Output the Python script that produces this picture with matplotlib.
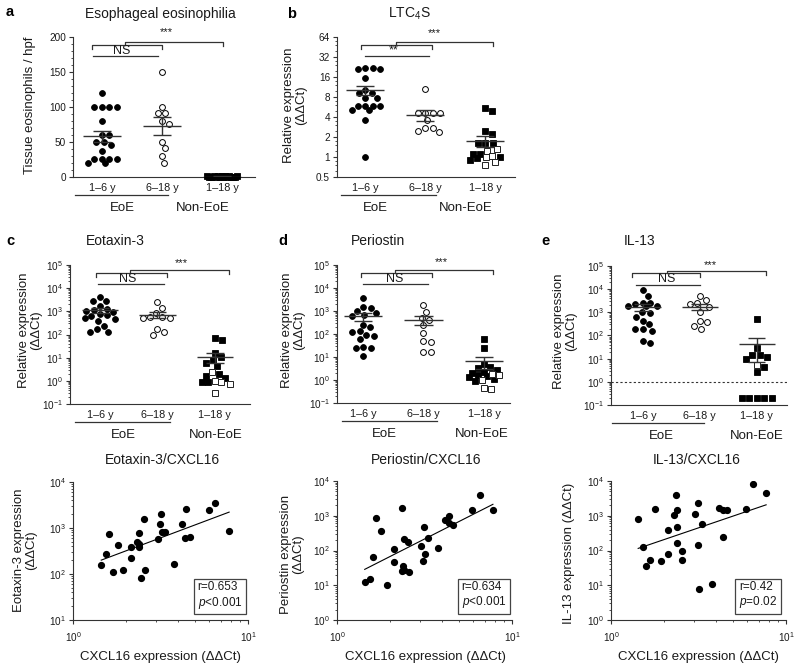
import numpy as np
import matplotlib
matplotlib.use("Agg")
import matplotlib.pyplot as plt
from matplotlib.ticker import (MultipleLocator, FixedLocator, LogLocator,
                               NullFormatter, LogFormatterSciNotation)

# ---------------- data ----------------
categories = ["1\u20136 y", "6\u201318 y", "1\u201318 y"]
group_names = ["EoE", "Non-EoE"]

# (a) Esophageal eosinophilia
a_1_6 = [120, 100, 100, 100, 100, 80, 60, 60, 50, 50, 46, 37, 25, 25, 25, 25, 20, 20]
a_6_18 = [150, 100, 91, 91, 80, 76, 50, 41, 30, 20]
a_non_filled = [0, 0, 0, 1, 0, 1, 2, 0, 0, 1, 0, 0, 2, 1, 0, 1]
a_non_open = []
a_ticks = [0, 50, 100, 150, 200]

# (b) LTC4S
b_1_6 = [21, 22, 22, 21, 15.6, 10.2, 9.1, 9.1, 7.6, 7.6, 5.9, 5.9, 5.9, 5.9, 5.1, 5.1, 3.6, 1.0]
b_6_18 = [10.7, 4.6, 4.6, 4.6, 4.6, 3.6, 2.7, 2.4, 2.5, 2.7]
b_non_filled = [5.0, 5.5, 2.5, 2.2, 1.6, 1.6, 1.6, 1.1, 1.0, 1.1, 0.9, 0.95]
b_non_open = [1.3, 1.25, 1.0, 0.85, 0.75, 1.05]
b_ticks = [0.5, 1, 2, 4, 8, 16, 32, 64]
b_tick_labels = ["0.5", "1", "2", "4", "8", "16", "32", "64"]

# (c) Eotaxin-3
c_1_6 = [4000, 2800, 2800, 1700, 1300, 1100, 1000, 900, 800, 700, 600, 500, 450, 400, 240, 180, 130, 130]
c_6_18 = [2450, 1400, 860, 560, 500, 500, 560, 180, 98, 125]
c_non_filled = [70, 60, 16, 11, 8, 6, 4.3, 2.0, 1.65, 0.9, 0.9, 1.3]
c_non_open = [2.4, 0.9, 0.72, 0.3, 1.0]

# (d) Periostin
d_1_6 = [3500, 1500, 1400, 1000, 800, 700, 600, 250, 200, 130, 120, 90, 80, 60, 25, 25, 28, 11]
d_6_18 = [1850, 950, 520, 400, 250, 110, 52, 45, 16, 17]
d_non_filled = [60, 25, 5, 3.5, 3.3, 2.8, 2.2, 2.0, 1.6, 1.3, 1.1, 0.9, 1.5]
d_non_open = [1.9, 1.0, 0.4, 0.45, 1.6]

# (e) IL-13
e_1_6 = [8900, 5200, 2500, 2500, 2300, 1800, 1800, 1800, 950, 1000, 600, 440, 310, 200, 160, 190, 48, 60]
e_6_18 = [4900, 3300, 2500, 2300, 1700, 1000, 430, 400, 265, 200]
e_non_filled = [520, 29, 14, 15, 10, 12, 4.5, 2.6, 0.2, 0.2, 0.2, 0.2, 0.2]
e_non_open = [5.5]

# correlations with CXCL16
eot_x = [1.45, 1.54, 1.61, 1.69, 1.80, 1.94, 2.14, 2.14, 2.31, 2.37, 2.39, 2.39, 2.44, 2.56,
         2.58, 3.05, 3.17, 3.14, 3.22, 3.35, 3.79, 4.17, 4.36, 4.42, 4.65, 5.97, 6.52, 7.8]
eot_y = [155, 275, 740, 110, 425, 124, 225, 380, 490, 780, 440, 380, 83, 1560,
         124, 575, 2000, 1230, 800, 800, 162, 1230, 600, 2650, 630, 2450, 3500, 850]
per_x = [1.44, 1.54, 1.60, 1.68, 1.79, 1.92, 2.13, 2.13, 2.35, 2.38, 2.40, 2.40, 2.35, 2.55,
         2.57, 3.03, 3.15, 3.12, 3.19, 3.31, 3.78, 4.16, 4.37, 4.35, 4.6, 5.93, 6.53, 7.78]
per_y = [12.8, 15.6, 64, 860, 370, 10.2, 111, 46, 1700, 36, 210, 28, 25, 180,
         24, 135, 490, 50, 80, 230, 117, 760, 1000, 630, 550, 1490, 3900, 1490]
il13_x = [1.43, 1.53, 1.59, 1.67, 1.78, 1.92, 2.11, 2.11, 2.29, 2.34, 2.37, 2.39, 2.37, 2.53,
          2.55, 3.02, 3.13, 3.13, 3.29, 3.2, 3.77, 4.14, 4.38, 4.35, 4.63, 5.9, 6.5, 7.7]
il13_y = [820, 130, 35, 52, 1550, 50, 80, 380, 1070, 3900, 1500, 490, 162, 100,
          54, 1100, 2300, 140, 570, 8, 10.7, 1650, 1500, 240, 1500, 1550, 8400, 4500]
stats_text = ["r=0.653\n$p$<0.001", "r=0.634\n$p$<0.001", "r=0.42\n$p$=0.02"]

# ---------------- style ----------------
plt.rcParams.update({
    "font.family": ["Liberation Sans", "DejaVu Sans"],
    "mathtext.fontset": "custom",
    "mathtext.rm": "Liberation Sans",
    "mathtext.it": "Liberation Sans:italic",
    "mathtext.bf": "Liberation Sans:bold",
    "axes.linewidth": 0.8,
})
TXT = "#1a1a1a"
LN = "#333333"
W, H = 800, 671
fig = plt.figure(figsize=(W / 100, H / 100), dpi=100)


def rect(l, r, t, b):
    return [l / W, 1 - b / H, (r - l) / W, (b - t) / H]


def P(x, y):
    return (x / W, 1 - y / H)


def base_style(ax):
    for s in ["top", "right"]:
        ax.spines[s].set_visible(False)
    for s in ["left", "bottom"]:
        ax.spines[s].set_color(LN)
    ax.tick_params(which="major", colors=LN, labelcolor=TXT, labelsize=7.2,
                   direction="out", length=3, width=0.8, pad=2)
    ax.tick_params(which="minor", colors=LN, direction="out", length=1.6, width=0.6)


def swarm_x(ax, vals, center, D=7.2, max_px=15.0):
    """Greedy beeswarm layout computed in display pixels."""
    vals = np.asarray(vals, float)
    disp = ax.transData.transform(np.column_stack([np.full(len(vals), center), vals]))
    ys = disp[:, 1]
    p0 = ax.transData.transform((center, vals[0]))[0]
    p1 = ax.transData.transform((center + 1, vals[0]))[0]
    ppu = p1 - p0
    steps = np.arange(0, max_px + 0.01, 0.5)
    cands = [0.0]
    for s in steps[1:]:
        cands += [s, -s]
    cands = np.array(cands)
    order = np.argsort(-ys, kind="stable")
    px_x = np.zeros(len(vals))
    placed = []
    for i in order:
        y = ys[i]
        if not placed:
            px_x[i] = 0.0
            placed.append((0.0, y))
            continue
        P_ = np.array(placed)
        d2 = (cands[:, None] - P_[None, :, 0]) ** 2 + (y - P_[None, :, 1]) ** 2
        mind = d2.min(axis=1)
        ok = np.where(mind >= D * D)[0]
        if len(ok):
            c = cands[ok[0]]
        else:
            c = cands[np.argmax(mind)]
        px_x[i] = c
        placed.append((c, y))
    return center + px_x / ppu


def mean_sem(ax, vals, c, log):
    v = np.asarray(vals, float)
    m = v.mean()
    se = v.std(ddof=1) / np.sqrt(len(v))
    lo = m - se
    if log and lo <= 0:
        lo = m * 0.5
    kw = dict(color=LN, lw=1.0, zorder=4, solid_capstyle="butt")
    ax.plot([c - 0.32, c + 0.32], [m, m], **kw)
    ax.plot([c, c], [lo, m + se], **kw)
    ax.plot([c - 0.15, c + 0.15], [m + se, m + se], **kw)
    ax.plot([c - 0.15, c + 0.15], [lo, lo], **kw)


def cat_panel(ax, g1, g2, gf, go, log, ylim, xlim, br, deco, star_dy=3):
    ax.set_xlim(*xlim)
    if log == "log10":
        ax.set_yscale("log")
    elif log == "log2":
        ax.set_yscale("log", base=2)
    ax.set_ylim(*ylim)
    base_style(ax)
    msz = 4.2
    x1 = swarm_x(ax, g1, 0)
    ax.plot(x1, g1, "o", ms=msz, mfc="black", mec="black", mew=0.6, ls="none", zorder=3, clip_on=False)
    x2 = swarm_x(ax, g2, 1)
    ax.plot(x2, g2, "o", ms=msz, mfc="white", mec="black", mew=0.7, ls="none", zorder=3, clip_on=False)
    gall = list(gf) + list(go)
    x3 = swarm_x(ax, gall, 2)
    nf = len(gf)
    ax.plot(x3[:nf], gf, "s", ms=msz, mfc="black", mec="black", mew=0.6, ls="none", zorder=3, clip_on=False)
    if len(go):
        ax.plot(x3[nf:], go, "s", ms=msz, mfc="white", mec="#222222", mew=0.7, ls="none", zorder=3, clip_on=False)
    islog = log is not None
    mean_sem(ax, g1, 0, islog)
    mean_sem(ax, g2, 1, islog)
    mean_sem(ax, gall, 2, islog)

    ax.set_xticks([0, 1, 2])
    ax.set_xticklabels(categories, fontsize=7.8, color=TXT)
    ax.tick_params(axis="x", length=0, pad=4)

    hpx = ax.bbox.height
    tr = ax.get_xaxis_transform()
    lk = dict(color=LN, lw=0.9, transform=tr, clip_on=False)

    def yf(dy):
        return 1 - dy / hpx

    b0, b1, s0, s1, n0, n1, nt, st, lab = br
    ax.plot([b0, b0, b1, b1], [yf(11.5), yf(7.5), yf(7.5), yf(11.5)], **lk)
    ax.plot([s0, s0, s1, s1], [yf(7.5), yf(5), yf(5), yf(9)], **lk)
    ax.plot([n0, n1], [yf(19), yf(19)], **lk)
    ax.text(nt, yf(13.5), lab, transform=tr, ha="center", va="center", fontsize=9, color=TXT)
    ax.text(st, yf(-star_dy), "***", transform=tr, ha="center", va="center", fontsize=8, color=TXT)

    u0, u1, ex, nx = deco
    ax.plot([u0, u1], [-18 / hpx, -18 / hpx], **lk)
    ax.text(ex, -31 / hpx, group_names[0], transform=tr, ha="center", va="center", fontsize=9.5, color=TXT)
    ax.text(nx, -31 / hpx, group_names[1], transform=tr, ha="center", va="center", fontsize=9.5, color=TXT)


# ---- panel a
ax_a = fig.add_axes(rect(73, 255, 37, 177))
cat_panel(ax_a, a_1_6, a_6_18, a_non_filled, a_non_open, None, (0, 200), (-0.48, 2.55),
          (-0.17, 1.0, 0.38, 2.02, -0.15, 0.93, 0.33, 1.08, "NS"),
          (-0.45, 1.1, 0.35, 1.68), star_dy=5)
ax_a.set_yticks(a_ticks)
ax_a.yaxis.set_minor_locator(MultipleLocator(10))

# ---- panel b
ax_b = fig.add_axes(rect(337, 515, 37, 177))
cat_panel(ax_b, b_1_6, b_6_18, b_non_filled, b_non_open, "log2", (0.5, 64), (-0.47, 2.5),
          (-0.07, 1.11, 0.52, 2.14, -0.01, 1.07, 0.47, 1.15, "**"),
          (-0.4, 1.19, 0.17, 1.67), star_dy=4)
ax_b.yaxis.set_major_locator(FixedLocator(b_ticks))
ax_b.set_yticklabels(b_tick_labels)
ax_b.yaxis.set_minor_locator(FixedLocator([2.0 ** k * f for k in range(-1, 6) for f in (1.25, 1.5, 1.75)]))
ax_b.yaxis.set_minor_formatter(NullFormatter())


def log_y(ax):
    ax.yaxis.set_major_locator(LogLocator(base=10, numticks=20))
    ax.yaxis.set_major_formatter(LogFormatterSciNotation())
    ax.yaxis.set_minor_locator(LogLocator(base=10, subs=np.arange(2, 10), numticks=50))
    ax.yaxis.set_minor_formatter(NullFormatter())


# ---- panel c
ax_c = fig.add_axes(rect(70, 250, 265, 404))
cat_panel(ax_c, c_1_6, c_6_18, c_non_filled, c_non_open, "log10", (0.1, 1e5), (-0.52, 2.61),
          (-0.07, 1.17, 0.52, 2.24, -0.03, 1.11, 0.49, 1.42, "NS"),
          (-0.43, 1.22, 0.4, 2.02), star_dy=2)
log_y(ax_c)

# ---- panel d
ax_d = fig.add_axes(rect(337, 510, 265, 403))
cat_panel(ax_d, d_1_6, d_6_18, d_non_filled, d_non_open, "log10", (0.1, 1e5), (-0.43, 2.43),
          (-0.04, 1.14, 0.53, 2.15, 0.0, 1.07, 0.53, 1.3, "NS"),
          (-0.35, 1.22, 0.36, 1.96), star_dy=3)
log_y(ax_d)

# ---- panel e
ax_e = fig.add_axes(rect(611, 787, 266, 405))
cat_panel(ax_e, e_1_6, e_6_18, e_non_filled, e_non_open, "log10", (0.1, 1e5), (-0.56, 2.53),
          (-0.2, 1.01, 0.42, 2.16, -0.12, 1.0, 0.42, 1.18, "NS"),
          (-0.55, 1.08, 0.33, 2.0), star_dy=1)
log_y(ax_e)
ax_e.axhline(1, color=LN, lw=0.8, ls=(0, (2, 2)), zorder=1)


# ---- scatter panels
def scatter_panel(ax, xs, ys, ylim, stat):
    ax.set_xscale("log")
    ax.set_yscale("log")
    ax.set_xlim(1, 10)
    ax.set_ylim(*ylim)
    base_style(ax)
    ax.plot(xs, ys, "o", ms=4.2, mfc="black", mec="black", ls="none", zorder=3)
    lx, ly = np.log10(xs), np.log10(ys)
    k, b = np.polyfit(lx, ly, 1)
    xx = np.array([min(xs), max(xs)])
    ax.plot(xx, 10 ** (k * np.log10(xx) + b), color="black", lw=0.8, zorder=2)
    for axis in (ax.xaxis, ax.yaxis):
        axis.set_major_locator(LogLocator(base=10, numticks=20))
        axis.set_major_formatter(LogFormatterSciNotation())
        axis.set_minor_locator(LogLocator(base=10, subs=np.arange(2, 10), numticks=50))
        axis.set_minor_formatter(NullFormatter())
    ax.tick_params(axis="x", pad=4)
    ax.text(0.84, 0.175, stat, transform=ax.transAxes, ha="center", va="center",
            fontsize=8.5, color=TXT, multialignment="left", linespacing=1.15,
            bbox=dict(boxstyle="square,pad=0.3", fc="white", ec="#444444", lw=0.9))


ax_s1 = fig.add_axes(rect(73, 248, 482, 620))
scatter_panel(ax_s1, eot_x, eot_y, (10, 1e4), stats_text[0])
ax_s2 = fig.add_axes(rect(337, 512, 481, 620))
scatter_panel(ax_s2, per_x, per_y, (1, 1e4), stats_text[1])
ax_s3 = fig.add_axes(rect(611, 786, 481, 620))
scatter_panel(ax_s3, il13_x, il13_y, (1, 1e4), stats_text[2])

# ---- texts
tk = dict(ha="center", va="center", color=TXT)
fig.text(*P(160.5, 14), "Esophageal eosinophilia", fontsize=10, **tk)
fig.text(*P(409, 14), "LTC$_4$S", fontsize=10, **tk)
fig.text(*P(115.5, 241), "Eotaxin-3", fontsize=10, **tk)
fig.text(*P(378, 241), "Periostin", fontsize=10, **tk)
fig.text(*P(640, 241), "IL-13", fontsize=10, **tk)
fig.text(*P(162, 460), "Eotaxin-3/CXCL16", fontsize=10, **tk)
fig.text(*P(426, 460), "Periostin/CXCL16", fontsize=10, **tk)
fig.text(*P(697, 460), "IL-13/CXCL16", fontsize=10, **tk)

yk = dict(ha="center", va="center", color=TXT, rotation=90, fontsize=9.5,
          multialignment="center", linespacing=1.05)
fig.text(*P(30, 105), "Tissue eosinophils / hpf", **yk)
fig.text(*P(295, 105), "Relative expression\n(\u0394\u0394Ct)", **yk)
fig.text(*P(30, 330), "Relative expression\n(\u0394\u0394Ct)", **yk)
fig.text(*P(293, 330), "Relative expression\n(\u0394\u0394Ct)", **yk)
fig.text(*P(565, 331), "Relative expression\n(\u0394\u0394Ct)", **yk)
fig.text(*P(25, 550), "Eotaxin-3 expression\n(\u0394\u0394Ct)", **yk)
fig.text(*P(292, 554), "Periostin expression\n(\u0394\u0394Ct)", **yk)
fig.text(*P(569, 553), "IL-13 expression (\u0394\u0394Ct)", **yk)

for xc in (160, 425, 698):
    fig.text(*P(xc, 657), "CXCL16 expression (\u0394\u0394Ct)", fontsize=9.5, **tk)

lk = dict(ha="center", va="center", color="black", fontsize=10.5, fontweight="bold")
fig.text(*P(10, 12), "a", **lk)
fig.text(*P(292, 14), "b", **lk)
fig.text(*P(10, 241), "c", **lk)
fig.text(*P(283, 241), "d", **lk)
fig.text(*P(545, 241), "e", **lk)

fig.savefig("out.png", dpi=100, facecolor="white")
